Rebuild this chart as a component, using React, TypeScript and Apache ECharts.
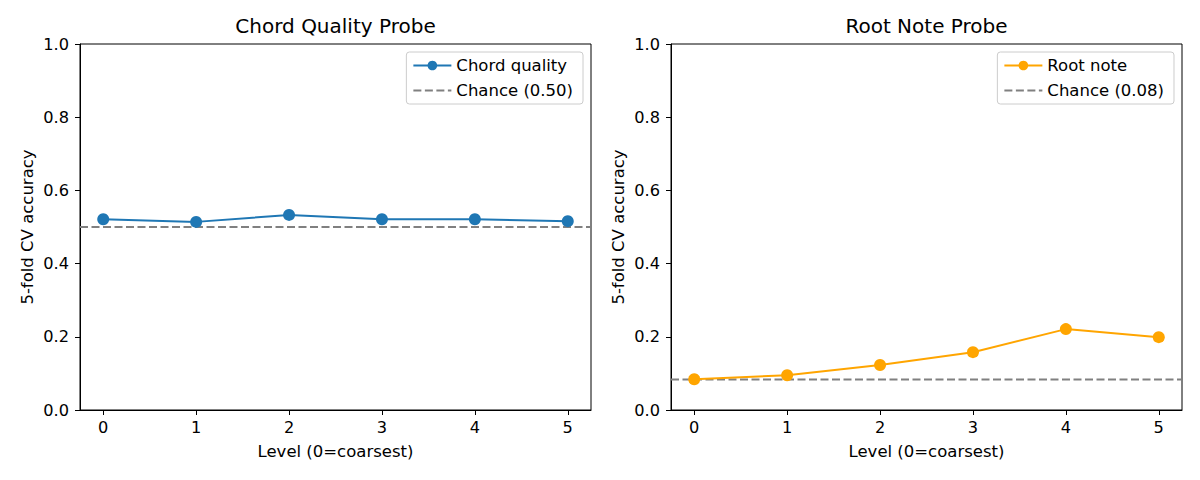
import React, { useEffect, useRef } from "react";
import * as echarts from "echarts";

const levels = [0, 1, 2, 3, 4, 5];
const chordQuality = [0.521, 0.514, 0.533, 0.521, 0.521, 0.516];
const rootNote = [0.084, 0.095, 0.123, 0.158, 0.221, 0.199];
const chanceChord = 0.5;
const chanceRoot = 1 / 12;
const yTicks = [0, 0.2, 0.4, 0.6, 0.8, 1.0];
const titles = ["Chord Quality Probe", "Root Note Probe"];
const seriesNames = ["Chord quality", "Root note"];
const chanceNames = ["Chance (0.50)", "Chance (0.08)"];

const FONT = "DejaVu Sans";

export default function App() {
  const ref = useRef<HTMLDivElement>(null);
  useEffect(() => {
    if (!ref.current) return;
    const chart = echarts.init(ref.current, undefined, { renderer: "svg" });
    const gridLefts = [80, 671];
    const gw = 511;
    const gtop = 44;
    const gh = 366;
    const xMin = -0.25;
    const xMax = 5.25;
    const colors = ["#1f77b4", "#ffa500"];
    const values = [chordQuality, rootNote];
    const chances = [chanceChord, chanceRoot];

    const grid = gridLefts.map((l) => ({
      left: l,
      top: gtop,
      width: gw,
      height: gh,
      show: true,
      borderColor: "#000",
      borderWidth: 1,
      backgroundColor: "transparent",
    }));

    const xAxis = gridLefts.map((_, i) => ({
      type: "value",
      gridIndex: i,
      min: xMin,
      max: xMax,
      name: "Level (0=coarsest)",
      nameLocation: "middle",
      nameGap: 33,
      nameTextStyle: { fontFamily: FONT, fontSize: 16.5, color: "#000" },
      axisLine: { show: true, onZero: false, lineStyle: { color: "#000", width: 1 } },
      axisTick: {
        show: true,
        length: 5,
        inside: false,
        customValues: levels,
        lineStyle: { color: "#000" },
      },
      axisLabel: {
        customValues: levels,
        margin: 9,
        fontFamily: FONT,
        fontSize: 16.2,
        color: "#000",
        formatter: (v: number) => String(v),
      },
      splitLine: { show: false },
    }));

    const yAxis = gridLefts.map((_, i) => ({
      type: "value",
      gridIndex: i,
      min: 0,
      max: 1,
      interval: 0.2,
      name: "5-fold CV accuracy",
      nameLocation: "middle",
      nameGap: 44,
      nameRotate: 90,
      nameTextStyle: { fontFamily: FONT, fontSize: 16.5, color: "#000" },
      axisLine: { show: true, onZero: false, lineStyle: { color: "#000", width: 1 } },
      axisTick: {
        show: true,
        length: 5,
        inside: false,
        customValues: yTicks,
        lineStyle: { color: "#000" },
      },
      axisLabel: {
        customValues: yTicks,
        margin: 11,
        fontFamily: FONT,
        fontSize: 16.2,
        color: "#000",
        formatter: (v: number) => v.toFixed(1),
      },
      splitLine: { show: false },
    }));

    const series: any[] = [];
    gridLefts.forEach((_, i) => {
      series.push({
        name: seriesNames[i],
        type: "line",
        xAxisIndex: i,
        yAxisIndex: i,
        data: levels.map((x, k) => [x, values[i][k]]),
        symbol: "circle",
        symbolSize: 12,
        lineStyle: { color: colors[i], width: 2 },
        itemStyle: { color: colors[i] },
        z: 3,
      });
      series.push({
        name: chanceNames[i],
        type: "line",
        xAxisIndex: i,
        yAxisIndex: i,
        data: [
          [xMin, chances[i]],
          [xMax, chances[i]],
        ],
        symbol: "none",
        lineStyle: { color: "#808080", width: 2, type: [8, 3.5] },
        itemStyle: { color: "#808080" },
        z: 2,
      });
    });

    const legend = gridLefts.map((l, i) => ({
      data: [
        { name: seriesNames[i] },
        { name: chanceNames[i], itemStyle: { opacity: 0 } },
      ],
      orient: "vertical",
      right: 1200 - (l + gw) + 8,
      top: 52,
      itemWidth: 38,
      itemHeight: 12,
      itemGap: 8,
      padding: [5, 10, 5, 6],
      backgroundColor: "rgba(255,255,255,0.8)",
      borderColor: "#cccccc",
      borderWidth: 1,
      borderRadius: 3,
      textStyle: { fontFamily: FONT, fontSize: 16.5, color: "#000" },
      selectedMode: false,
    }));

    const title = gridLefts.map((l, i) => ({
      text: titles[i],
      left: l + gw / 2,
      top: 16,
      padding: 0,
      textAlign: "center",
      textStyle: {
        fontFamily: FONT,
        fontSize: 20,
        fontWeight: "normal",
        color: "#000",
      },
    }));

    chart.setOption({
      animation: false,
      backgroundColor: "#fff",
      title,
      legend,
      grid,
      xAxis,
      yAxis,
      series,
    });
    return () => chart.dispose();
  }, []);
  return (
    <div
      ref={ref}
      style={{ position: "fixed", left: 0, top: 0, width: 1200, height: 480 }}
    />
  );
}
